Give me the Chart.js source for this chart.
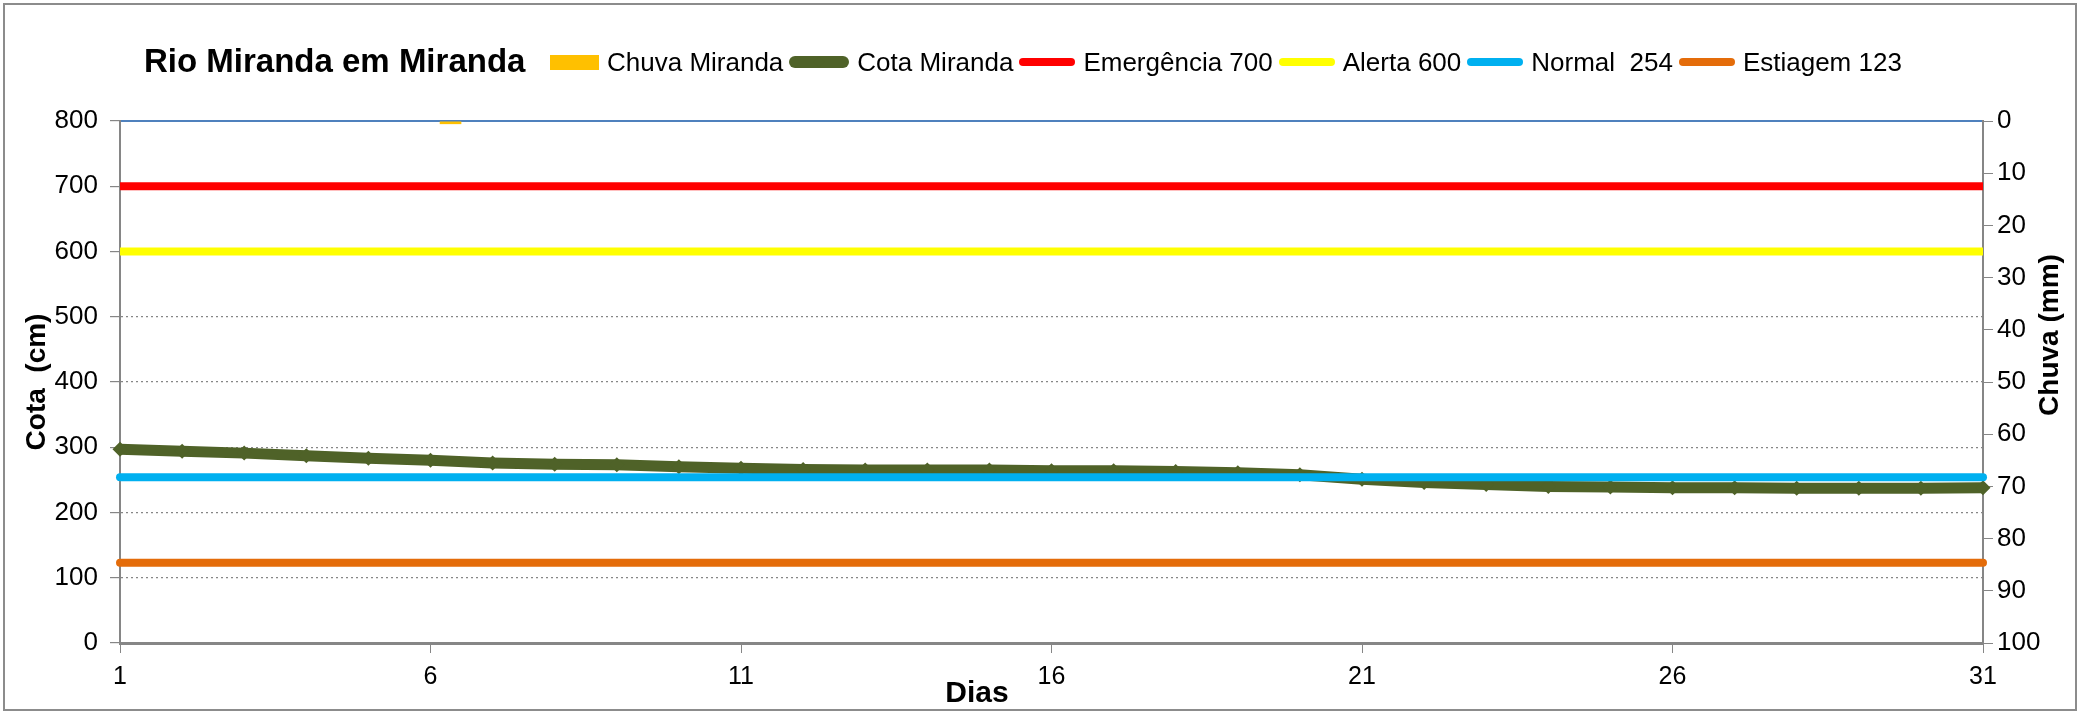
<!DOCTYPE html>
<html>
<head>
<meta charset="utf-8">
<script src="https://cdn.jsdelivr.net/npm/chart.js@4.4.1/dist/chart.umd.min.js"></script>
<style>
    html, body { margin: 0; padding: 0; background: #fff; }
    #wrap { position: relative; width: 2087px; height: 714px; }
    #frame { position: absolute; left: 3px; top: 3px; width: 2070px; height: 704px; border: 2px solid #8c8c8c; pointer-events: none; }
    #head { position: absolute; left: 0; top: 0; width: 100%; height: 110px; font-family: "Liberation Sans", Arial, sans-serif; color: #000; }
    #title { position: absolute; left: 144px; top: 45px; font-weight: bold; font-size: 33px; line-height: 32px; }
    #legend { position: absolute; left: 550px; top: 49px; display: flex; align-items: center; font-size: 26px; line-height: 26px; }
    .item { display: flex; align-items: center; margin-right: 6px; }
    .sw { position: relative; margin-right: 8px; }
    .mk { position: absolute; left: 50%; top: 50%; width: 8px; height: 8px; margin: -4px 0 0 -4px; transform: rotate(45deg); }
</style>
</head>
<body>
<div id="wrap">
    <canvas id="chart" width="2087" height="714"></canvas>
    <div id="head">
        <div id="title">Rio Miranda em Miranda</div>
        <div id="legend"></div>
    </div>
    <div id="frame"></div>
</div>
<script>
// data
const days = [1, 2, 3, 4, 5, 6, 7, 8, 9, 10, 11, 12, 13, 14, 15, 16, 17, 18, 19, 20, 21, 22, 23, 24, 25, 26, 27, 28, 29, 30, 31];
const tickDays = [1, 6, 11, 16, 21, 26, 31];
const chuva = [0, 0, 0, 0, 0, 0.6, 0, 0, 0, 0, 0, 0, 0, 0, 0, 0, 0, 0, 0, 0, 0, 0, 0, 0, 0, 0, 0, 0, 0, 0, 0];
const cota = [297, 294, 291, 287, 283, 280, 276, 274, 273, 270, 268, 266, 265, 265, 265, 264, 264, 263, 261, 258,
              251, 246, 243, 240, 239, 238, 238, 237, 237, 237, 238];
const emergencia = 700;
const alerta = 600;
const normal = 254;
const estiagem = 123;

const cotaTicks = { min: 0, max: 800, step: 100 };
const chuvaTicks = { min: 0, max: 100, step: 10 };

const font = '"Liberation Sans", Arial, sans-serif';
const gridGray = '#868686';

function flatLine(value) {
    return days.map(() => value);
}

let datasets = [
    {
        type: 'bar', label: 'Chuva Miranda', data: chuva,
        xAxisID: 'x2', yAxisID: 'y2', grouped: false,
        backgroundColor: '#FFC000', barPercentage: 0.36, categoryPercentage: 1,
        order: 7
    },
    {
        type: 'line', label: 'Cota Miranda', data: cota,
        xAxisID: 'x', yAxisID: 'y',
        borderColor: '#4F6228', backgroundColor: '#4F6228', borderWidth: 11,
        pointStyle: 'rectRot', pointRadius: 7.5, pointBorderWidth: 0, pointBackgroundColor: '#4F6228',
        tension: 0, clip: false, order: 6
    },
    {
        type: 'line', label: 'Emergência 700', data: flatLine(emergencia),
        borderColor: '#FF0000', backgroundColor: '#FF0000', borderWidth: 8, pointRadius: 0, order: 4
    },
    {
        type: 'line', label: 'Alerta 600', data: flatLine(alerta),
        borderColor: '#FFFF00', backgroundColor: '#FFFF00', borderWidth: 8, pointRadius: 0, order: 3
    },
    {
        type: 'line', label: 'Normal  254', data: flatLine(normal),
        borderColor: '#00B0F0', backgroundColor: '#00B0F0', borderWidth: 8, pointRadius: 0,
        borderCapStyle: 'round', clip: false, order: 2
    },
    {
        type: 'line', label: 'Estiagem 123', data: flatLine(estiagem),
        borderColor: '#E46C0A', backgroundColor: '#E46C0A', borderWidth: 8, pointRadius: 0,
        borderCapStyle: 'round', clip: false, order: 1
    }
];

// right axis title and x title sit off-centre in the original, drawn here
const axisTitles = {
    id: 'axisTitles',
    afterDraw(chart) {
        let ctx = chart.ctx;
        let area = chart.chartArea;
        ctx.save();
        ctx.fillStyle = '#000';
        ctx.textAlign = 'center';
        ctx.textBaseline = 'middle';
        ctx.font = 'bold 30px ' + font;
        ctx.fillText('Dias', area.left + 0.46 * (area.right - area.left), 694);
        ctx.font = 'bold 28px ' + font;
        ctx.translate(2050, area.top + 0.41 * (area.bottom - area.top));
        ctx.rotate(-Math.PI / 2);
        ctx.fillText('Chuva (mm)', 0, 0);
        ctx.restore();
    }
};

let chart = new Chart(document.getElementById('chart'), {
    type: 'line',
    data: { labels: days, datasets: datasets },
    options: {
        responsive: false,
        animation: false,
        devicePixelRatio: 1,
        layout: { padding: { top: 121, left: 0, right: 0, bottom: 0 } },
        plugins: { legend: { display: false }, tooltip: { enabled: false } },
        scales: {
            x: {
                type: 'linear', position: 'bottom', min: 1, max: 31, offset: false,
                afterBuildTicks: axis => { axis.ticks = tickDays.map(v => ({ value: v })); },
                afterFit: axis => { axis.height = 71; },
                grid: { drawOnChartArea: false, drawTicks: true, tickLength: 10, color: gridGray, lineWidth: 1 },
                border: { color: gridGray, width: 3 },
                ticks: { font: { family: font, size: 25 }, color: '#000', padding: 9, maxRotation: 0, autoSkip: false }
            },
            // hidden day axis for the rain bars, days sit in the middle of their slot like Excel columns
            x2: {
                type: 'linear', position: 'top', min: 0.5, max: 31.5, offset: false,
                afterBuildTicks: axis => { axis.ticks = days.map(v => ({ value: v })); },
                afterFit: axis => { axis.height = 0; },
                grid: { display: false, drawTicks: false, offset: false },
                border: { display: true, color: '#4F81BD', width: 2 },
                ticks: { display: false }
            },
            y: {
                type: 'linear', position: 'left', min: cotaTicks.min, max: cotaTicks.max,
                afterFit: axis => { axis.width = 120; },
                ticks: { stepSize: cotaTicks.step, font: { family: font, size: 26 }, color: '#000', padding: 12 },
                grid: { color: gridGray, lineWidth: 1.2, tickLength: 10, drawTicks: true },
                border: { color: gridGray, width: 2, dash: [2, 3] },
                title: { display: true, text: 'Cota  (cm)', color: '#000', font: { family: font, size: 28, weight: 'bold' }, padding: { top: 20, bottom: 0 } }
            },
            y2: {
                type: 'linear', position: 'right', reverse: true, min: chuvaTicks.min, max: chuvaTicks.max,
                afterFit: axis => { axis.width = 104; },
                ticks: { stepSize: chuvaTicks.step, font: { family: font, size: 26 }, color: '#000', padding: 4 },
                grid: { drawOnChartArea: false, drawTicks: true, tickLength: 10, color: gridGray },
                border: { color: gridGray, width: 2 }
            }
        }
    },
    plugins: [axisTitles]
});

// legend row built from the chart datasets
let legend = document.getElementById('legend');
for (let ds of chart.data.datasets) {
    let item = document.createElement('div');
    item.className = 'item';
    let sw = document.createElement('div');
    sw.className = 'sw';
    if (ds.type === 'bar') {
        sw.style.cssText = 'width:49px;height:15px;background:' + ds.backgroundColor;
    } else if (ds.label === 'Cota Miranda') {
        sw.style.cssText = 'width:60px;height:12px;border-radius:6px;background:' + ds.borderColor;
        let mk = document.createElement('div');
        mk.className = 'mk';
        mk.style.background = ds.borderColor;
        sw.appendChild(mk);
    } else {
        sw.style.cssText = 'width:56px;height:8px;border-radius:4px;background:' + ds.borderColor;
    }
    let txt = document.createElement('span');
    txt.textContent = ds.label;
    txt.style.whiteSpace = 'pre';
    item.appendChild(sw);
    item.appendChild(txt);
    legend.appendChild(item);
}
</script>
</body>
</html>
